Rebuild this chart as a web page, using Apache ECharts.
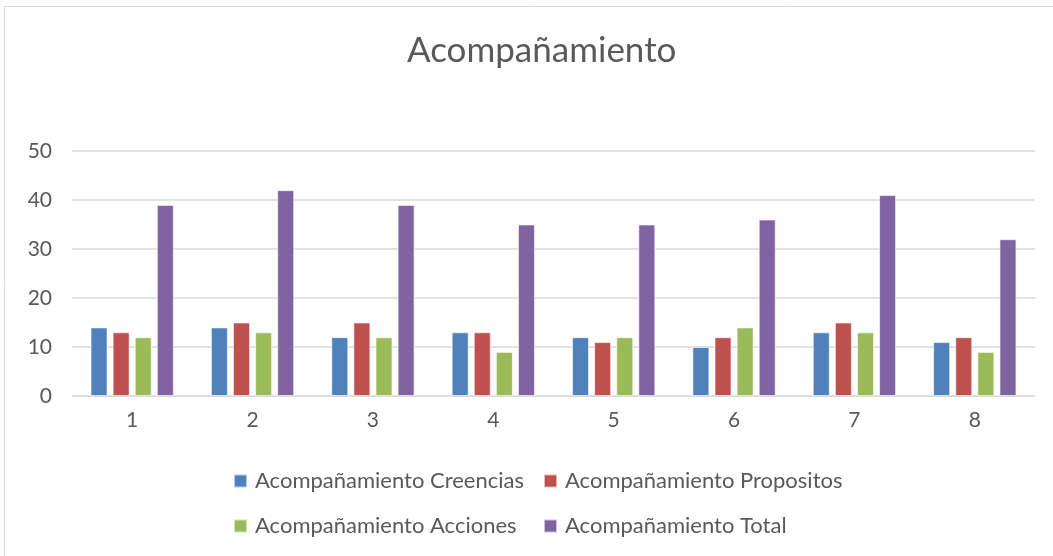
<!DOCTYPE html>
<html>
<head>
<meta charset="utf-8">
<script src="https://cdn.jsdelivr.net/npm/echarts@6/dist/echarts.min.js"></script>
<style>
  html, body { margin: 0; padding: 0; background: #fff; }
  #main { width: 1053px; height: 556px; }
</style>
</head>
<body>
<div id="main"></div>
<script>
  var categories = ['1', '2', '3', '4', '5', '6', '7', '8'];
  var creencias = [14, 14, 12, 13, 12, 10, 13, 11];
  var propositos = [13, 15, 15, 13, 11, 12, 15, 12];
  var acciones = [12, 13, 12, 9, 12, 14, 13, 9];
  var total = [39, 42, 39, 35, 35, 36, 41, 32];
  var seriesNames = [
    'Acompañamiento Creencias',
    'Acompañamiento Propositos',
    'Acompañamiento Acciones',
    'Acompañamiento Total'
  ];
  var colors = ['#4f81bd', '#c0504d', '#9bbb59', '#8064a2'];
  var FONT = 'Lato';

  var bar = function(name, data, color) {
    return {
      name: name,
      type: 'bar',
      data: data,
      barWidth: 17,
      barGap: '30%',
      itemStyle: { color: color, borderColor: 'rgba(255,255,255,0.6)', borderWidth: 1 }
    };
  };

  var legendText = { color: '#595959', fontSize: 22, fontFamily: FONT, padding: [0, 0, 0, 3] };

  var chart = echarts.init(document.getElementById('main'));
  chart.setOption({
    animation: false,
    color: colors,
    textStyle: { fontFamily: FONT },
    graphic: [{
      type: 'rect',
      shape: { x: 4.5, y: 6.5, width: 1100, height: 600 },
      style: { fill: 'none', stroke: '#d9d9d9', lineWidth: 1 },
      silent: true
    }],
    title: {
      text: 'Acompañamiento',
      left: 402,
      top: 28,
      textStyle: { color: '#595959', fontSize: 35, fontWeight: 'normal', fontFamily: FONT }
    },
    // two vertical legends so the columns line up like the original
    legend: [{
      data: [seriesNames[0], seriesNames[2]],
      orient: 'vertical',
      left: 228,
      top: 465,
      itemWidth: 13,
      itemHeight: 13,
      itemGap: 23,
      icon: 'rect',
      textStyle: legendText
    }, {
      data: [seriesNames[1], seriesNames[3]],
      orient: 'vertical',
      left: 538,
      top: 465,
      itemWidth: 13,
      itemHeight: 13,
      itemGap: 23,
      icon: 'rect',
      textStyle: legendText
    }],
    grid: { left: 72, right: 18, top: 151, bottom: 160, containLabel: false },
    xAxis: {
      type: 'category',
      data: categories,
      axisLine: { lineStyle: { color: '#d9d9d9', width: 1 } },
      axisTick: { show: false },
      axisLabel: { color: '#595959', fontSize: 21, margin: 14, fontFamily: FONT }
    },
    yAxis: {
      type: 'value',
      min: 0,
      max: 50,
      interval: 10,
      axisLine: { show: false },
      axisTick: { show: false },
      splitLine: { lineStyle: { color: '#d9d9d9', width: 1.5 } },
      axisLabel: { color: '#595959', fontSize: 21, margin: 20, fontFamily: FONT }
    },
    series: [
      bar(seriesNames[0], creencias, colors[0]),
      bar(seriesNames[1], propositos, colors[1]),
      bar(seriesNames[2], acciones, colors[2]),
      bar(seriesNames[3], total, colors[3])
    ]
  });
</script>
</body>
</html>
